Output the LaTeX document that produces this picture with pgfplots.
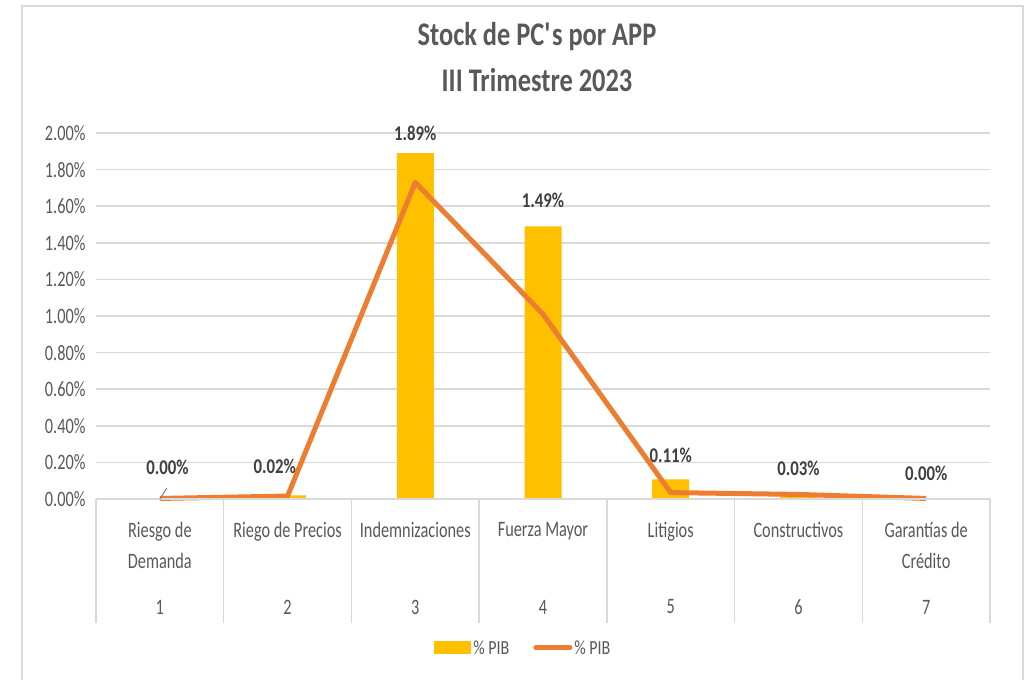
\documentclass[border=0pt]{standalone}
\usepackage{pgfplots}
\pgfplotsset{compat=1.18}
\usepackage{fontspec}
\setmainfont{Carlito}[FakeStretch=0.8]
\newfontfamily\narrowf{Carlito}[FakeStretch=0.74]
\definecolor{barc}{HTML}{FFC000}
\definecolor{linec}{HTML}{ED7D31}
\definecolor{txt}{HTML}{595959}
\definecolor{lbl}{HTML}{404040}
\definecolor{gridc}{HTML}{D9D9D9}
\begin{document}
\begin{tikzpicture}[x=1pt,y=1pt]
\useasboundingbox (0,0) rectangle (1033,680);
\fill[white] (0,0) rectangle (1033,680);
\draw[gridc, line width=2pt] (22,0) -- (22,674) -- (1023,674) -- (1023,0);
\node[text=txt, font=\bfseries\fontsize{33}{38}\selectfont] at (537,643) {Stock de PC\textquotesingle s por APP};
\node[text=txt, font=\bfseries\fontsize{33}{38}\selectfont] at (537,600) {III Trimestre 2023};
\begin{axis}[
  at={(96pt,181pt)}, anchor=south west, scale only axis,
  width=894pt, height=366pt,
  xmin=0.5, xmax=7.5, ymin=0, ymax=2,
  ytick={0,0.2,0.4,0.6,0.8,1.0,1.2,1.4,1.6,1.8,2.0},
  yticklabel={\pgfmathprintnumber[fixed,fixed zerofill,precision=2]{\tick}\%},
  /pgf/number format/assume math mode=true,
  ymajorgrids, grid style={gridc, line width=1.5pt},
  axis line style={draw=none},
  major tick length=0pt,
  yticklabel style={text=txt, font=\narrowf\fontsize{22}{26}\selectfont, xshift=-7pt},
  xtick={1,2,3,4,5,6,7},
  xticklabels={Riesgo de\\Demanda, Riego de Precios, Indemnizaciones, Fuerza Mayor, Litigios, Constructivos, Garantías de\\Crédito},
  xticklabel style={align=center, anchor=north, yshift=-23pt, inner sep=0pt, text=txt, font=\narrowf\fontsize{22}{31}\selectfont},
  clip=false,
  legend columns=2,
  legend style={at={(0.478,-0.407)}, anchor=center, draw=none, fill=none, font=\fontsize{20}{24}\selectfont, text=txt,
    /tikz/every even column/.append style={column sep=22pt}},
]
\addplot[ybar, bar width=37pt, fill=barc, draw=none,
  legend image code/.code={\fill[barc] (0pt,-6.5pt) rectangle (37pt,6.5pt);}]
  coordinates {(1,0.001) (2,0.02) (3,1.89) (4,1.49) (5,0.107) (6,0.025) (7,0.002)};
\addlegendentry{\% PIB}
\addplot[linec, line width=5pt, line join=round, mark=none,
  legend image code/.code={\draw[linec, line width=5pt, line cap=round] (2pt,0pt) -- (36pt,0pt);}]
  coordinates {(1,0.003) (2,0.016) (3,1.73) (4,1.01) (5,0.035) (6,0.025) (7,0.003)};
\addlegendentry{\% PIB}
\draw[gridc, line width=1.5pt] (axis cs:0.5,0) -- (axis cs:7.5,0);
\pgfplotsinvokeforeach{0.5,1.5,2.5,3.5,4.5,5.5,6.5,7.5}{
  \draw[gridc, line width=1.5pt] (axis cs:#1,0) -- ++(0pt,-124pt);
}
\pgfplotsinvokeforeach{1,...,7}{
  \node[text=txt, font=\narrowf\fontsize{22}{26}\selectfont] at (axis cs:#1,0) [yshift=-108pt] {#1};
}
\draw[gray, line width=1pt] (axis cs:1,0) -- ++(7pt,11pt);
\tikzset{dl/.style={text=lbl, font=\bfseries\fontsize{21}{24}\selectfont}}
\node[dl] at (axis cs:1.06,0.175) {0.00\%};
\node[dl] at (axis cs:1.9,0.18) {0.02\%};
\node[dl] at (axis cs:3,2.0) {1.89\%};
\node[dl] at (axis cs:4,1.63) {1.49\%};
\node[dl] at (axis cs:5,0.24) {0.11\%};
\node[dl] at (axis cs:6,0.17) {0.03\%};
\node[dl] at (axis cs:7,0.14) {0.00\%};
\end{axis}
\end{tikzpicture}
\end{document}
